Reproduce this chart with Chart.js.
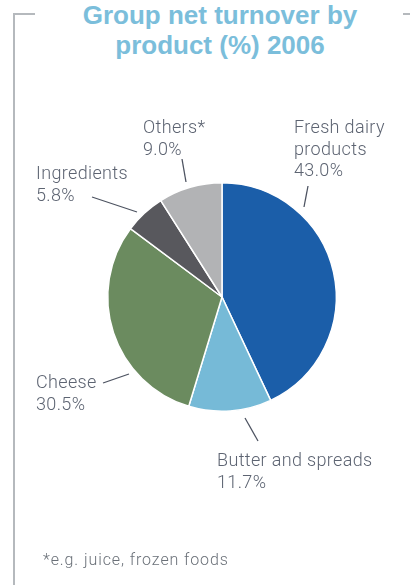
<!DOCTYPE html>
<html>
<head>
<meta charset="utf-8">
<script src="https://cdn.jsdelivr.net/npm/chart.js@4/dist/chart.umd.min.js"></script>
<style>
  html, body { margin: 0; padding: 0; background: #fff; }
  #wrap { position: relative; width: 410px; height: 585px; overflow: hidden; }
  #wrap canvas { position: absolute; left: 0; top: 0; }
  .frame { position: absolute; background: #b5b9bd; }
  #title {
    position: absolute; left: 0; top: 0; width: 440px; text-align: center;
    font: bold 26px "Liberation Sans", Arial, sans-serif; line-height: 30px;
    color: #7bbedb;
  }
  #note {
    position: absolute; left: 43px; top: 550px; white-space: nowrap;
    font: 300 16px Roboto, "Liberation Sans", sans-serif; letter-spacing: 0.9px;
    color: #6a7078;
  }
</style>
</head>
<body>
<div id="wrap">
  <div class="frame" style="left:13px;top:13px;width:2px;height:572px"></div>
  <div class="frame" style="left:13px;top:13px;width:22px;height:2px"></div>
  <div class="frame" style="left:403px;top:13px;width:7px;height:2px"></div>
  <div id="title">Group net turnover by<br>product (%) 2006</div>
  <canvas id="pie" width="410" height="585"></canvas>
  <div id="note">*e.g. juice, frozen foods</div>
</div>
<script>
const categories = [['Fresh dairy', 'products'], ['Butter and spreads'], ['Cheese'], ['Ingredients'], ['Others*']];
const shares = [43.0, 11.7, 30.5, 5.8, 9.0];
const colours = ['#1b5ea9', '#76bad7', '#6b8b5f', '#58585d', '#b2b3b5'];

// where each label and its leader line sit, relative to the pie centre
const labelSpots = [
  { tx: 72, ty: -164, line: [82, -90, 86, -111] },
  { tx: -5, ty: 169, line: [23, 121, 36, 144] },
  { tx: -186, ty: 91, line: [-93, 77, -119, 86] },
  { tx: -186, ty: -118, line: [-85, -85, -130, -100] },
  { tx: -79, ty: -164, line: [-36, -115, -40, -138] }
];

const leaderLabels = {
  id: 'leaderLabels',
  afterDatasetsDraw(chart) {
    const ctx = chart.ctx;
    const arc = chart.getDatasetMeta(0).data[0];
    const cx = arc.x, cy = arc.y;
    ctx.save();
    ctx.strokeStyle = '#4d5361';
    ctx.lineWidth = 1.3;
    ctx.fillStyle = '#5d6472';
    ctx.font = '300 18px Roboto, "Liberation Sans", sans-serif';
    ctx.letterSpacing = '0.35px';
    ctx.textBaseline = 'alphabetic';
    ctx.textAlign = 'left';
    chart.data.labels.forEach((lab, i) => {
      const s = labelSpots[i];
      ctx.beginPath();
      ctx.moveTo(cx + s.line[0], cy + s.line[1]);
      ctx.lineTo(cx + s.line[2], cy + s.line[3]);
      ctx.stroke();
      const lines = [...lab, chart.data.datasets[0].data[i].toFixed(1) + '%'];
      lines.forEach((t, j) => ctx.fillText(t, cx + s.tx, cy + s.ty + j * 21.7));
    });
    ctx.restore();
  }
};

new Chart(document.getElementById('pie'), {
  type: 'pie',
  data: {
    labels: categories,
    datasets: [{
      data: shares,
      backgroundColor: colours,
      borderColor: '#ffffff',
      borderWidth: 1.5
    }]
  },
  options: {
    responsive: false,
    animation: false,
    layout: { padding: { left: 107, right: 73, top: 182, bottom: 173 } },
    plugins: {
      legend: { display: false },
      tooltip: { enabled: false }
    }
  },
  plugins: [leaderLabels]
});
</script>
</body>
</html>
